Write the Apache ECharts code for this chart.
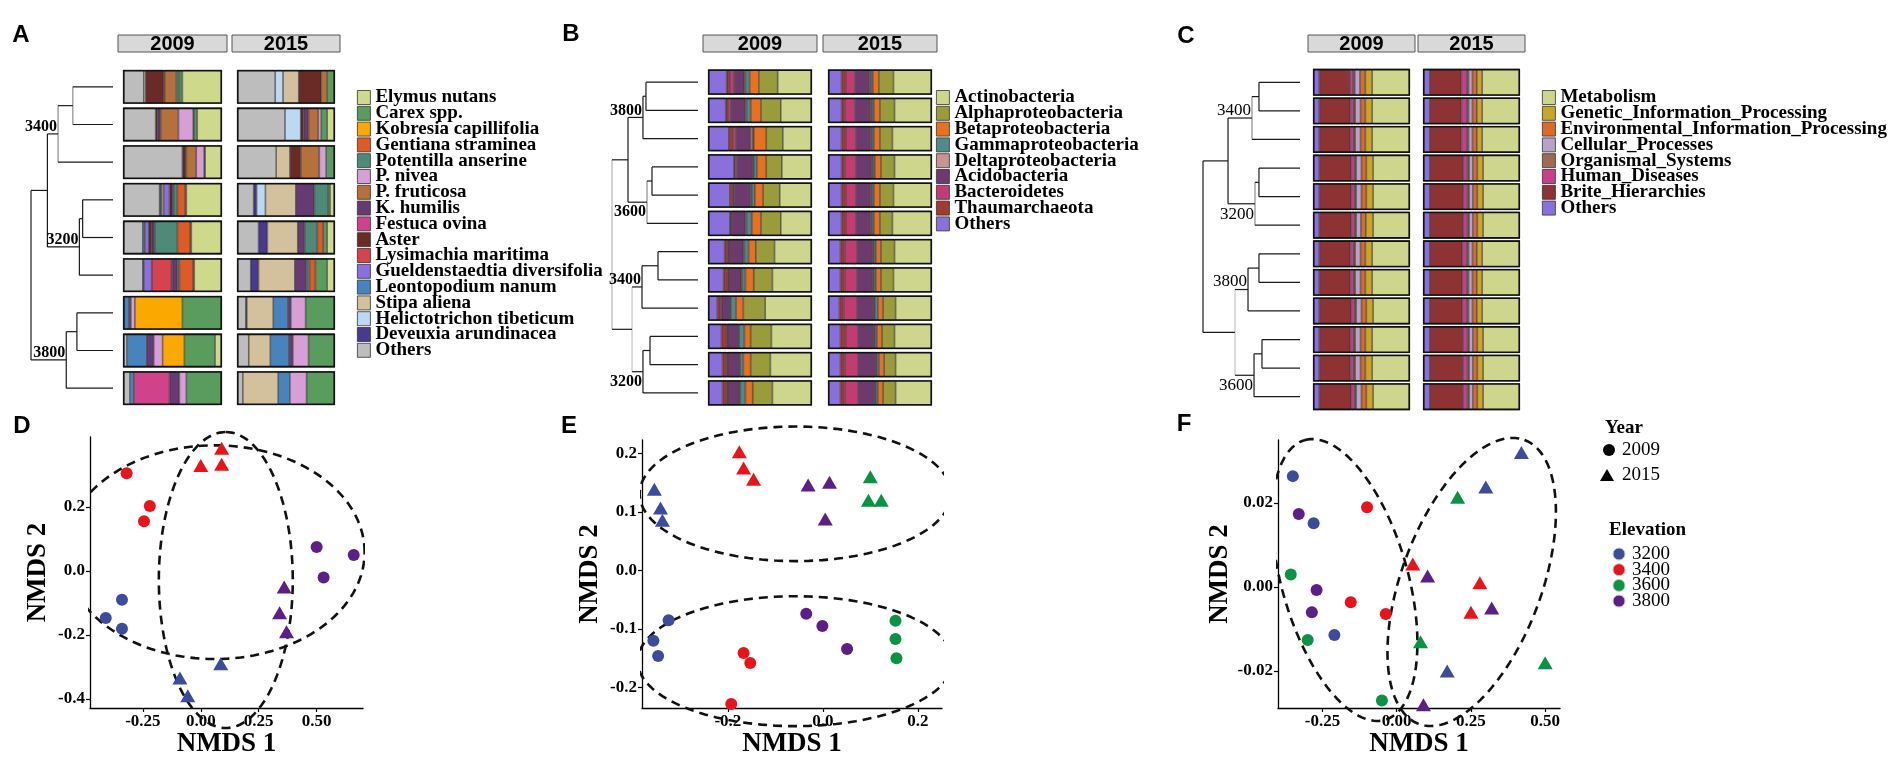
<!DOCTYPE html>
<html><head><meta charset="utf-8">
<script src="https://cdn.jsdelivr.net/npm/echarts@6/dist/echarts.min.js"></script>
<style>html,body{margin:0;padding:0;background:#fff}#c{width:1904px;height:771px}</style>
</head><body><div id="c"></div>
<script>
const SERIF='"Liberation Serif","Times New Roman",serif';
const SANS='"Liberation Sans",Arial,sans-serif';

// ---------- Panel A: plant composition ----------
const plantNames=['Elymus nutans','Carex spp.','Kobresia capillifolia','Gentiana straminea','Potentilla anserine','P. nivea','P. fruticosa','K. humilis','Festuca ovina','Aster','Lysimachia maritima','Gueldenstaedtia diversifolia','Leontopodium nanum','Stipa aliena','Helictotrichon tibeticum','Deveuxia arundinacea','Others'];
const plantColors=['#cfd98c','#5a9b5e','#fba900','#e05a27','#4e8a77','#d69fd6','#b5703b','#663a72','#d0438b','#6a2a26','#d5434f','#8a70de','#4784be','#d2c19c','#bcd8f2','#493990','#bdbdbd'];
const plant2009=[
[40,3,0,0,3,0,12,1,0,18,0,0,0,2,0,0,21],
[25,3,0,0,1,15,18,3,0,2,0,0,0,0,0,0,33],
[17,1,0,0,0,8,10,1,0,3,0,0,0,0,0,0,60],
[36,1,0,8,4,0,0,1,0,3,0,6,0,2,1,1,37],
[31,1,0,13,23,0,0,3,0,3,0,4,2,0,0,0,20],
[28,1,0,14,2,0,0,5,0,1,20,8,0,1,0,0,20],
[0,40,48,0,0,4,0,2,0,0,0,0,5,0,0,1,0],
[7,31,22,0,0,9,0,7,0,0,0,0,20,0,0,0,4],
[1,35,0,0,0,7,0,10,36,0,0,0,4,0,0,0,7]];
const plant2015=[
[0,8,0,0,0,0,6,0,0,23,0,0,0,16,8,0,39],
[8,6,0,0,0,3,10,5,0,3,0,0,0,0,16,0,49],
[0,9,0,0,0,7,19,0,0,11,0,0,0,14,0,0,40],
[5,2,0,0,14,0,0,19,0,0,0,0,0,31,9,3,17],
[8,4,0,6,13,0,0,7,0,0,0,0,0,31,0,9,22],
[8,12,0,6,3,0,0,12,0,0,0,0,0,37,0,8,14],
[0,30,0,0,0,15,0,3,0,0,0,0,15,27,0,1,9],
[0,27,0,0,0,16,0,4,0,0,0,0,19,22,0,0,12],
[0,29,0,0,0,17,0,0,0,0,0,0,12,36,0,0,6]];
// tree nodes: [left, right, height, label, labelPos, verticalLineColour]
const plantTree=[[[[0,1,0.49,null,null,'#8c8c8c'],2,0.67,'3400','above','#8c8c8c'],[[3,4,0.37],5,0.41,'3200','above'],0.80],[[6,7,0.44],8,0.57,'3800','above'],1.0];

// ---------- Panel B: bacterial phyla ----------
const bactNames=['Actinobacteria','Alphaproteobacteria','Betaproteobacteria','Gammaproteobacteria','Deltaproteobacteria','Acidobacteria','Bacteroidetes','Thaumarchaeota','Others'];
const bactColors=['#cdd68c','#9a9b3b','#e8701e','#4f8b8a','#c99391','#6d3a6d','#c23c73','#a13a2f','#8a70dc'];
const bact2009=[
[33,18,9,4,1,10,4,3,18],[30,19,10,4,1,14,3,2,17],[28,16,12,1,2,14,3,4,20],
[29,15,9,3,1,15,2,1,25],[31,16,8,3,1,16,1,3,21],[30,19,9,5,1,13,1,1,21],
[36,18,7,4,1,14,1,3,16],[38,18,8,3,1,12,1,4,15],[45,21,7,5,1,8,1,3,9],
[39,20,6,5,1,10,1,5,13],[40,19,7,3,1,11,1,4,14],[38,19,7,5,1,11,1,4,14]];
const bact2015=[
[37,14,6,2,1,14,9,4,13],[36,14,6,2,1,15,10,3,13],[38,12,6,2,1,14,10,4,13],
[36,13,6,2,1,15,11,3,13],[37,13,6,2,1,14,10,4,13],[38,12,6,2,1,14,10,4,13],
[36,13,5,2,1,15,12,4,12],[37,12,5,2,1,15,12,4,12],[35,12,5,3,1,16,13,4,11],
[36,12,5,2,1,15,12,5,12],[35,11,5,2,1,17,13,4,12],[35,12,5,2,1,16,13,4,12]];
const bactTree=[[[[0,1,0.605],2,0.64,'3800','above'],[[3,4,0.535],5,0.593,'3600','below','#8c8c8c'],0.814],[[[6,7,0.465],8,0.651,'3400','above'],[[9,10,0.558],11,0.64,'3200','below'],0.767,null,null,'#c4c4c4'],1.0,null,null,'#b4b4b4'];

// ---------- Panel C: functional categories ----------
const funcNames=['Metabolism','Genetic_Information_Processing','Environmental_Information_Processing','Cellular_Processes','Organismal_Systems','Human_Diseases','Brite_Hierarchies','Others'];
const funcColors=['#cdd68c','#c9a528','#db6b2b','#b7a2c8','#9f6a52','#c6408c','#8d3333','#8a70dc'];
const func2009=[
[39,7,5.5,5.5,1.5,3.5,31.5,6.5],[39,7,5,5.5,1.5,3.5,32,6.5],[39,7,5,5.5,1.5,3.5,32,6.5],
[38,7,5,5.5,1.5,3.5,33,6.5],[38,7,5,5.5,1.5,3.5,33,6.5],[38,7.5,5,5,1.5,3.5,33,6.5],
[39,7,5,5.5,1.5,3.5,32,6.5],[39,7,5,5.5,1.5,3.5,32,6.5],[38,7,5,5.5,1.5,3.5,33,6.5],
[39,7,5,5.5,1.5,3.5,32,6.5],[39,7,5,5.5,1.5,3.5,32,6.5],[38,7,5,5.5,1.5,3.5,33,6.5]];
const func2015=[
[39,5.5,4.5,4,1.5,6,32.5,7],[39,5.5,4.5,4,1.5,6,32.5,7],[39,5.5,4.5,4,1.5,6,32.5,7],
[38,6,4.5,4,1.5,4.5,34.5,7],[38,6,4.5,4,1.5,4.5,34.5,7],[38,6,4.5,4,1.5,4.5,34.5,7],
[39,5.5,4.5,4,1.5,5,33.5,7],[39,5.5,4.5,4,1.5,5,33.5,7],[39,5.5,4.5,4,1.5,5,33.5,7],
[38,6,4.5,4,1.5,5,34,7],[38,6,4.5,4,1.5,5,34,7],[38,6,4.5,4,1.5,5,34,7]];
const funcTree=[[[[0,1,0.423],2,0.495,'3400','above','#8c8c8c'],[[3,4,0.423],5,0.464,'3200','below','#8c8c8c'],0.742],[[[6,7,0.423],8,0.536,'3800','above'],[[9,10,0.392],11,0.474,'3600','below'],0.67,null,null,'#c4c4c4'],1.0];

// ---------- NMDS panels: [elevationIndex, NMDS1, NMDS2] ----------
const elevations=['3200','3400','3600','3800'];
const elevColors=['#3b4c9c','#e8141c','#0b9345','#5c1f87'];
const nmdsD2009=[[0,-0.34,-0.09],[0,-0.41,-0.147],[0,-0.34,-0.18],[1,-0.32,0.306],[1,-0.22,0.203],[1,-0.245,0.156],[3,0.50,0.075],[3,0.53,-0.02],[3,0.66,0.05]];
const nmdsD2015=[[0,-0.09,-0.334],[0,-0.056,-0.39],[0,0.086,-0.29],[1,0.0,0.33],[1,0.09,0.384],[1,0.09,0.334],[3,0.36,-0.05],[3,0.34,-0.13],[3,0.37,-0.19]];
const nmdsE2009=[[0,-0.325,-0.085],[0,-0.357,-0.12],[0,-0.347,-0.146],[1,-0.167,-0.141],[1,-0.153,-0.158],[1,-0.193,-0.228],[3,-0.035,-0.074],[3,-0.001,-0.095],[3,0.051,-0.134],[2,0.153,-0.086],[2,0.153,-0.117],[2,0.155,-0.15]];
const nmdsE2015=[[0,-0.355,0.139],[0,-0.342,0.107],[0,-0.338,0.086],[1,-0.176,0.203],[1,-0.167,0.175],[1,-0.146,0.156],[3,-0.031,0.146],[3,0.014,0.151],[3,0.005,0.088],[2,0.10,0.16],[2,0.096,0.12],[2,0.123,0.12]];
const nmdsF2009=[[0,-0.35,0.0264],[0,-0.28,0.0152],[0,-0.21,-0.0114],[3,-0.33,0.0174],[3,-0.27,-0.0007],[3,-0.286,-0.006],[2,-0.357,0.003],[2,-0.30,-0.0126],[2,-0.05,-0.027],[1,-0.10,0.019],[1,-0.155,-0.0036],[1,-0.037,-0.0064]];
const nmdsF2015=[[0,0.42,0.032],[0,0.30,0.0238],[0,0.17,-0.02],[2,0.205,0.0214],[2,0.08,-0.013],[2,0.50,-0.018],[1,0.054,0.0055],[1,0.28,0.001],[1,0.25,-0.006],[3,0.104,0.0026],[3,0.32,-0.005],[3,0.09,-0.028]];
// ellipses: [cx, cy, ux, uy, vx, vy]  (centre + two conjugate half-axes)
const ellD=[[0.06,0.059,0.647,0,0,0.334],[0.108,-0.028,0,0.4625,0.289,0]];
const ellE=[[-0.058,0.131,0.328,0,0,0.115],[-0.058,-0.155,0.332,0,0,0.111]];
const ellF=[[-0.175,0.00167,-0.135,0.0333,0.204,0.0041],[0.2525,0.0012,0.178,0.0338,0.221,-0.0058]];
const ticksDx=[-0.25,0,0.25,0.5], ticksDy=[-0.4,-0.2,0,0.2];
const ticksEx=[-0.2,0,0.2], ticksEy=[-0.2,-0.1,0,0.1,0.2];
const ticksFx=[-0.25,0,0.25,0.5], ticksFy=[-0.02,0,0.02];

// ---------- builders ----------
const grids=[],xAxes=[],yAxes=[],series=[],legends=[],graphic=[];
function addGrid(g){grids.push(Object.assign({containLabel:false},g));return grids.length-1;}

function strip(x,w,label){
  graphic.push({type:'rect',shape:{x:x,y:35,width:w,height:17},style:{fill:'#d9d9d9',stroke:'#555',lineWidth:1},silent:true});
  graphic.push({type:'text',x:x+w/2,y:44,style:{text:label,font:'bold 20px '+SANS,fill:'#000',align:'center',verticalAlign:'middle'},silent:true});
}

function addBarPanel(key,box,names,colors,rows,gap,year){
  const gi=addGrid(box);
  xAxes.push({gridIndex:gi,type:'value',min:0,max:100,show:false});
  yAxes.push({gridIndex:gi,type:'category',inverse:true,show:false,data:rows.map((r,i)=>'r'+(i+1))});
  const sums=rows.map(r=>r.reduce((a,b)=>a+b,0));
  const stack='s'+gi;
  for(let k=names.length-1;k>=0;k--){
    series.push({type:'bar',name:key+'|'+names[k],xAxisIndex:gi,yAxisIndex:gi,stack:stack,barCategoryGap:gap,barGap:'-100%',
      data:rows.map((r,i)=>r[k]>0?r[k]/sums[i]*100:'-'),
      itemStyle:{color:colors[k],borderColor:'#2a2a2a',borderWidth:0.6},emphasis:{disabled:true},silent:true});
  }
  series.push({type:'bar',xAxisIndex:gi,yAxisIndex:gi,barCategoryGap:gap,barGap:'-100%',z:5,silent:true,
    data:sums.map(s=>s/s*100),itemStyle:{color:'rgba(0,0,0,0)',borderColor:'#111',borderWidth:1.6}});
  strip(box.left-5,box.width+10,year);
}

function addDendro(box,n,tree,font){
  const gi=addGrid(box);
  xAxes.push({gridIndex:gi,type:'value',min:0,max:1,inverse:true,show:false});
  yAxes.push({gridIndex:gi,type:'value',min:-0.5,max:n-0.5,inverse:true,show:false});
  const segs=[],segCol=[],labs=[];
  function walk(node){
    if(typeof node==='number')return {y:node,h:0};
    const a=walk(node[0]),b=walk(node[1]),h=node[2];
    segs.push([h,a.y,h,b.y]);segCol.push(node[5]||'#1a1a1a');
    segs.push([a.h,a.y,h,a.y]);segCol.push('#1a1a1a');
    segs.push([b.h,b.y,h,b.y]);segCol.push('#1a1a1a');
    const y=(a.y+b.y)/2;
    if(node[3])labs.push({x:h,y:y,text:node[3],pos:node[4]});
    return {y:y,h:h};
  }
  walk(tree);
  series.push({type:'custom',xAxisIndex:gi,yAxisIndex:gi,data:segs,encode:{x:[0,2],y:[1,3]},silent:true,clip:false,
    renderItem:function(p,api){const a=api.coord([api.value(0),api.value(1)]),b=api.coord([api.value(2),api.value(3)]);
      return {type:'line',shape:{x1:a[0],y1:a[1],x2:b[0],y2:b[1]},style:{stroke:segCol[p.dataIndex],lineWidth:1.2}};}});
  series.push({type:'custom',xAxisIndex:gi,yAxisIndex:gi,data:labs.map(l=>[l.x,l.y]),silent:true,clip:false,
    renderItem:function(p,api){const l=labs[p.dataIndex];const c=api.coord([l.x,l.y]);
      return {type:'text',x:c[0]-1,y:c[1]+(l.pos==='above'?1:2),style:{text:l.text,fill:'#000',font:font,align:'right',verticalAlign:l.pos==='above'?'bottom':'top'}};}});
}

function axisCommon(ticks,dec,name,gap){
  return {type:'value',axisLine:{show:true,onZero:false,lineStyle:{color:'#000',width:1.3}},
    axisTick:{show:true,customValues:ticks,length:4,lineStyle:{color:'#000',width:1.2}},
    axisLabel:{customValues:ticks,formatter:v=>Number(v).toFixed(dec),fontFamily:SERIF,fontWeight:'bold',fontSize:17,color:'#000',margin:5,hideOverlap:false},
    splitLine:{show:false},name:name,nameLocation:'middle',nameGap:gap,
    nameTextStyle:{fontFamily:SERIF,fontWeight:'bold',fontSize:27,color:'#000'}};
}

function addNmds(box,xr,yr,xt,yt,xd,yd,p09,p15,ells,yGap){
  const gi=addGrid(box);
  xAxes.push(Object.assign(axisCommon(xt,xd,'NMDS 1',22),{gridIndex:gi,min:xr[0],max:xr[1]}));
  yAxes.push(Object.assign(axisCommon(yt,yd,'NMDS 2',yGap),{gridIndex:gi,min:yr[0],max:yr[1]}));
  ells.forEach(e=>{
    const d=[];
    for(let i=0;i<=144;i++){const t=i/144*2*Math.PI;d.push([e[0]+e[2]*Math.cos(t)+e[4]*Math.sin(t),e[1]+e[3]*Math.cos(t)+e[5]*Math.sin(t)]);}
    series.push({type:'line',xAxisIndex:gi,yAxisIndex:gi,data:d,showSymbol:false,symbol:'none',clip:false,silent:true,
      lineStyle:{color:'#111',width:2.6,type:[9,6]},z:2});
  });
  [[p09,'circle',12],[p15,'triangle',[15,13]]].forEach(([pts,sym,size])=>{
    elevations.forEach((el,ei)=>{
      const d=pts.filter(p=>p[0]===ei).map(p=>[p[1],p[2]]);
      if(!d.length)return;
      series.push({type:'scatter',xAxisIndex:gi,yAxisIndex:gi,data:d,symbol:sym,symbolSize:size,clip:false,silent:true,
        itemStyle:{color:elevColors[ei],opacity:1},z:3});
    });
  });
}

function addLegend(key,names,left){
  legends.push({data:names.map(n=>key+'|'+n),formatter:n=>n.split('|')[1],orient:'vertical',left:left,top:88,
    itemWidth:13,itemHeight:14,itemGap:-3.2,icon:'rect',
    selectedMode:false,padding:0,textStyle:{fontFamily:SERIF,fontWeight:'bold',fontSize:19,lineHeight:15.8,color:'#000'},
    itemStyle:{borderColor:'#333',borderWidth:0.8}});
}

// ---------- top row ----------
addDendro({left:31,top:68,width:82,height:339},9,plantTree,'bold 16px '+SERIF);
addBarPanel('A',{left:123,top:68,width:99,height:339},plantNames,plantColors,plant2009,'10%','2009');
addBarPanel('A',{left:237,top:68,width:98,height:339},plantNames,plantColors,plant2015,'10%','2015');
addLegend('A',plantNames,357);

addDendro({left:612,top:68,width:86,height:339},12,bactTree,'bold 16px '+SERIF);
addBarPanel('B',{left:708,top:68,width:104,height:339},bactNames,bactColors,bact2009,'10%','2009');
addBarPanel('B',{left:828,top:68,width:104,height:339},bactNames,bactColors,bact2015,'10%','2015');
addLegend('B',bactNames,936);

addDendro({left:1203,top:68,width:97,height:343},12,funcTree,'17px '+SERIF);
addBarPanel('C',{left:1313,top:68,width:97,height:343},funcNames,funcColors,func2009,'6%','2009');
addBarPanel('C',{left:1423,top:68,width:97,height:343},funcNames,funcColors,func2015,'6%','2015');
addLegend('C',funcNames,1542);

// ---------- bottom row ----------
addNmds({left:90,top:437,width:273,height:271},[-0.478,0.70],[-0.428,0.419],ticksDx,ticksDy,2,1,nmdsD2009,nmdsD2015,ellD,38);
addNmds({left:642,top:440,width:300,height:268},[-0.381,0.251],[-0.235,0.223],ticksEx,ticksEy,1,1,nmdsE2009,nmdsE2015,ellE,38);
addNmds({left:1278,top:440,width:282,height:268},[-0.40,0.55],[-0.0288,0.035],ticksFx,ticksFy,2,2,nmdsF2009,nmdsF2015,ellF,44);

// panel letters
[['A',21,35],['B',571,34],['C',1186,36],['D',22,426],['E',569,426],['F',1184,424]].forEach(l=>{
  graphic.push({type:'text',x:l[1],y:l[2],style:{text:l[0],font:'bold 24px '+SANS,fill:'#000',align:'center',verticalAlign:'middle'},silent:true});
});

// Year / Elevation key
graphic.push({type:'text',x:1605,y:428,style:{text:'Year',font:'bold 19px '+SERIF,fill:'#000',verticalAlign:'middle'}});
graphic.push({type:'circle',shape:{cx:1609,cy:450,r:6},style:{fill:'#000'}});
graphic.push({type:'text',x:1622,y:450,style:{text:'2009',font:'19px '+SERIF,fill:'#000',verticalAlign:'middle'}});
graphic.push({type:'polygon',shape:{points:[[1600,481],[1614,481],[1607,469]]},style:{fill:'#000'}});
graphic.push({type:'text',x:1622,y:475,style:{text:'2015',font:'19px '+SERIF,fill:'#000',verticalAlign:'middle'}});
graphic.push({type:'text',x:1609,y:530,style:{text:'Elevation',font:'bold 19px '+SERIF,fill:'#000',verticalAlign:'middle'}});
elevations.forEach((el,i)=>{
  const y=554+i*15.7;
  graphic.push({type:'circle',shape:{cx:1619,cy:y,r:6},style:{fill:elevColors[i],stroke:'#c8c8c8',lineWidth:1}});
  graphic.push({type:'text',x:1632,y:y,style:{text:el,font:'19px '+SERIF,fill:'#000',verticalAlign:'middle'}});
});

const chart=echarts.init(document.getElementById('c'),null,{renderer:'canvas'});
chart.setOption({animation:false,backgroundColor:'#fff',grid:grids,xAxis:xAxes,yAxis:yAxes,series:series,legend:legends,graphic:graphic});
</script></body></html>
